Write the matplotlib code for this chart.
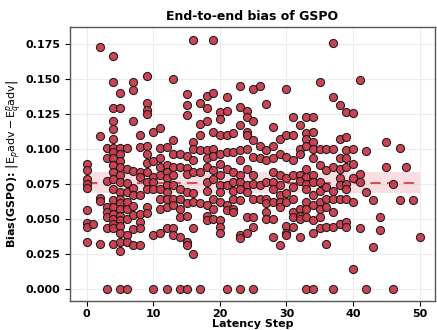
import matplotlib
matplotlib.use("Agg")
import matplotlib.pyplot as plt
import numpy as np

# ---- data ----
latency_steps = (
    [0]*9 + [1]*1 + [2]*5 + [3]*8 + [4]*20 + [5]*19 + [6]*10 + [7]*10 + [8]*9 + [9]*12 +
    [10]*7 + [11]*9 + [12]*10 + [13]*10 + [14]*8 + [15]*12 + [16]*9 + [17]*7 + [18]*11 +
    [19]*10 + [20]*12 + [21]*9 + [22]*8 + [23]*12 + [24]*10 + [25]*10 + [26]*5 + [27]*8 +
    [28]*9 + [29]*8 + [30]*9 + [31]*9 + [32]*9 + [33]*12 + [34]*12 + [35]*9 + [36]*7 +
    [37]*9 + [38]*8 + [39]*10 + [40]*6 + [41]*4 + [42]*3 + [43]*2 + [44]*2 + [45]*2 +
    [46]*2 + [47]*2 + [48]*1 + [49]*1 + [50]*1
)
bias_values = [
    0.089, 0.085, 0.078, 0.075, 0.072, 0.056, 0.047, 0.044, 0.033,           # 0
    0.046,                                                                    # 1
    0.1726, 0.109, 0.065, 0.0626, 0.0317,                                     # 2
    0.1005, 0.093, 0.0767, 0.058, 0.055, 0.051, 0.043, 0.0,                   # 3
    0.166, 0.148, 0.129, 0.12, 0.114, 0.107, 0.1005, 0.0976, 0.093, 0.088,
    0.083, 0.0786, 0.0714, 0.063, 0.058, 0.0536, 0.05, 0.046, 0.043, 0.032,   # 4
    0.14, 0.129, 0.1005, 0.096, 0.091, 0.087, 0.081, 0.076, 0.069, 0.064,
    0.061, 0.057, 0.052, 0.049, 0.045, 0.040, 0.033, 0.027, 0.0,              # 5
    0.1005, 0.0857, 0.0757, 0.069, 0.062, 0.057, 0.05, 0.0386, 0.033, 0.0,    # 6
    0.148, 0.1417, 0.1195, 0.084, 0.072, 0.0667, 0.059, 0.0524, 0.0429, 0.0314,  # 7
    0.1095, 0.101, 0.083, 0.08, 0.0667, 0.0536, 0.0476, 0.043, 0.031,         # 8
    0.152, 0.133, 0.128, 0.125, 0.102, 0.096, 0.090, 0.083, 0.076, 0.071, 0.058, 0.054,  # 9
    0.112, 0.091, 0.080, 0.076, 0.071, 0.0386, 0.0,                          # 10
    0.115, 0.1005, 0.093, 0.087, 0.081, 0.071, 0.064, 0.057, 0.040,           # 11
    0.101, 0.088, 0.083, 0.079, 0.074, 0.069, 0.064, 0.058, 0.043, 0.0,       # 12
    0.1495, 0.106, 0.096, 0.087, 0.081, 0.074, 0.064, 0.0595, 0.043, 0.038,   # 13
    0.096, 0.087, 0.071, 0.064, 0.057, 0.051, 0.037, 0.0,                     # 14
    0.139, 0.131, 0.124, 0.095, 0.086, 0.082, 0.069, 0.061, 0.052, 0.033, 0.031, 0.0,  # 15
    0.1774, 0.105, 0.10, 0.092, 0.083, 0.068, 0.062, 0.043, 0.025,            # 16
    0.1326, 0.118, 0.1095, 0.099, 0.083, 0.061, 0.0,                          # 17
    0.138, 0.129, 0.12, 0.099, 0.093, 0.087, 0.076, 0.070, 0.0595, 0.052, 0.049,  # 18
    0.178, 0.14, 0.112, 0.10, 0.095, 0.0845, 0.0786, 0.064, 0.057, 0.050,     # 19
    0.126, 0.121, 0.1095, 0.096, 0.089, 0.081, 0.074, 0.069, 0.062, 0.049, 0.044, 0.040,  # 20
    0.137, 0.127, 0.1095, 0.0976, 0.0857, 0.074, 0.0595, 0.056, 0.0,          # 21
    0.111, 0.0976, 0.083, 0.076, 0.070, 0.064, 0.057, 0.055,                  # 22
    0.1445, 0.13, 0.117, 0.099, 0.092, 0.081, 0.076, 0.071, 0.063, 0.038, 0.036, 0.0,  # 23
    0.127, 0.1226, 0.112, 0.1095, 0.100, 0.0857, 0.074, 0.069, 0.051, 0.040,  # 24
    0.143, 0.12, 0.106, 0.094, 0.081, 0.075, 0.064, 0.051, 0.044, 0.0,        # 25
    0.145, 0.102, 0.093, 0.074, 0.064,                                        # 26
    0.132, 0.099, 0.092, 0.076, 0.064, 0.061, 0.055, 0.050,                   # 27
    0.1155, 0.102, 0.093, 0.083, 0.076, 0.071, 0.062, 0.050, 0.037,           # 28
    0.107, 0.096, 0.081, 0.074, 0.0667, 0.062, 0.058, 0.031,                  # 29
    0.143, 0.1095, 0.094, 0.079, 0.068, 0.062, 0.045, 0.040, 0.038,           # 30
    0.1226, 0.1095, 0.092, 0.081, 0.0726, 0.064, 0.055, 0.051, 0.044,         # 31
    0.117, 0.100, 0.096, 0.081, 0.077, 0.057, 0.052, 0.050, 0.037,            # 32
    0.1226, 0.111, 0.107, 0.102, 0.0857, 0.080, 0.075, 0.071, 0.062, 0.057, 0.051, 0.0,  # 33
    0.1226, 0.112, 0.105, 0.100, 0.093, 0.081, 0.076, 0.0667, 0.0595, 0.049, 0.040, 0.0,  # 34
    0.1476, 0.100, 0.088, 0.076, 0.070, 0.062, 0.057, 0.051, 0.043,           # 35
    0.100, 0.0845, 0.0726, 0.064, 0.058, 0.044, 0.032,                        # 36
    0.1757, 0.137, 0.100, 0.087, 0.070, 0.064, 0.055, 0.044, 0.0,             # 37
    0.131, 0.107, 0.093, 0.0857, 0.079, 0.074, 0.064, 0.046,                  # 38
    0.126, 0.108, 0.099, 0.093, 0.087, 0.075, 0.071, 0.064, 0.0476, 0.044,    # 39
    0.1257, 0.100, 0.089, 0.079, 0.062, 0.0143,                               # 40
    0.149, 0.082, 0.076, 0.043,                                               # 41
    0.098, 0.069, 0.0,                                                        # 42
    0.063, 0.0298,                                                            # 43
    0.051, 0.042,                                                             # 44
    0.105, 0.087,                                                             # 45
    0.075, 0.0,                                                               # 46
    0.1007, 0.063,                                                            # 47
    0.087,                                                                    # 48
    0.063,                                                                    # 49
    0.0367,                                                                   # 50
]
mean_bias = 0.0757
band_half_width = 0.0077
band_range = [0, 50]

title = "End-to-end bias of GSPO"
xlabel = "Latency Step"
ylabel = r"Bias(GSPO): $\left|\mathrm{E}_{p}\mathrm{adv} - \mathrm{E}_{q}^{p}\mathrm{adv}\right|$"
xticks = [0, 10, 20, 30, 40, 50]
yticks = [0.0, 0.025, 0.05, 0.075, 0.1, 0.125, 0.15, 0.175]

assert len(latency_steps) == len(bias_values)

# ---- figure ----
fig = plt.figure(figsize=(4.37, 3.30), dpi=100)
ax = fig.add_axes([70/437, 1-301/330, 365/437, 274/330])

ax.grid(True, color="#ececec", linewidth=0.8, zorder=0)
ax.set_axisbelow(True)

ax.fill_between(band_range, mean_bias - band_half_width, mean_bias + band_half_width,
                color="#f4b8c0", alpha=0.45, linewidth=0, zorder=1)
ax.plot(band_range, [mean_bias, mean_bias], linestyle=(0, (5, 3)), color="#d0505c",
        linewidth=1.5, zorder=2)

ax.scatter(latency_steps, bias_values, s=34, c="#c83a4b", edgecolors="#1a1a1a",
           linewidths=0.8, zorder=3, alpha=0.95)

ax.set_xlim(-2.5, 52.3)
ax.set_ylim(-0.0089, 0.187)
ax.set_xticks(xticks)
ax.set_yticks(yticks)
ax.set_xticklabels([str(t) for t in xticks], fontweight="bold", fontsize=8)
ax.set_yticklabels([f"{t:.3f}" for t in yticks], fontweight="bold", fontsize=8)
ax.tick_params(length=3.5, width=0.8)
ax.tick_params(axis="x", pad=2.5)

ax.set_title(title, fontweight="bold", fontsize=9, pad=5)
ax.set_xlabel(xlabel, fontweight="bold", fontsize=8, labelpad=0)
ax.set_ylabel(ylabel, fontweight="bold", fontsize=8, labelpad=1)

for sp in ax.spines.values():
    sp.set_color("#555555")
    sp.set_linewidth(1.0)

fig.savefig("out.png", dpi=100)
